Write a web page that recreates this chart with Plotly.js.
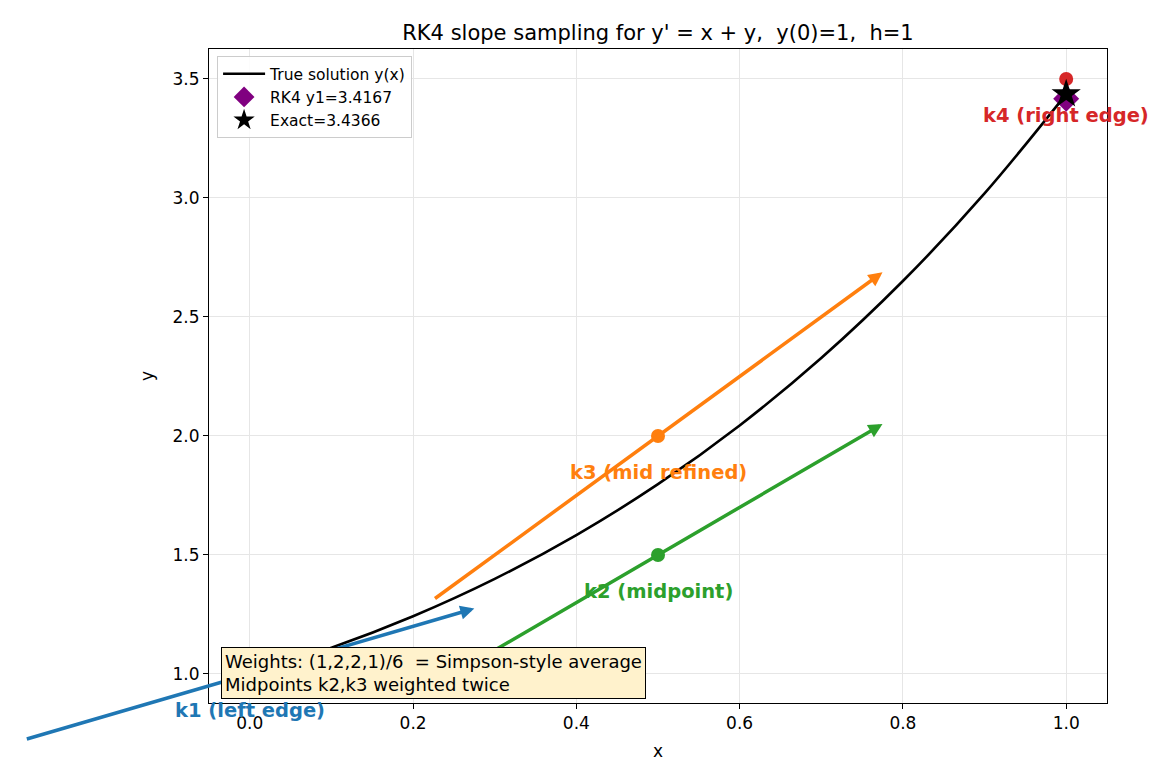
<!DOCTYPE html>
<html>
<head>
<meta charset="utf-8">
<script src="https://cdn.plot.ly/plotly-3.0.1.min.js"></script>
<style>html,body{margin:0;padding:0;background:#fff;}#chart{width:1170px;height:780px;}</style>
</head>
<body>
<div id="chart"></div>
<script>
// True solution samples y(x)
const curveX = [0, 0.1, 0.2, 0.3, 0.4, 0.5, 0.6, 0.7, 0.8, 0.9, 1.0];
const curveY = [1.0, 1.1103, 1.2428, 1.3997, 1.5836, 1.7974, 2.0442, 2.3275, 2.6511, 3.0192, 3.4366];

// RK4 stage sample points and slopes
const stageNames = ["k1 (left edge)", "k2 (midpoint)", "k3 (mid refined)", "k4 (right edge)"];
const stageX = [0, 0.5, 0.5, 1.0];
const stageY = [1.0, 1.5, 2.0, 3.5];
const stageSlope = [1.0, 2.0, 2.5, 4.5];
const stageArrow = [true, true, true, false];
const stageColors = ["#1f77b4", "#2ca02c", "#ff7f0e", "#d62728"];

// Result markers
const rk4X = [1.0];
const rk4Y = [3.4167];
const exactX = [1.0];
const exactY = [3.4366];

// Ticks
const xTickVals = [0, 0.2, 0.4, 0.6, 0.8, 1.0];
const xTickText = ["0.0", "0.2", "0.4", "0.6", "0.8", "1.0"];
const yTickVals = [1.0, 1.5, 2.0, 2.5, 3.0, 3.5];
const yTickText = ["1.0", "1.5", "2.0", "2.5", "3.0", "3.5"];

const FONT = "DejaVu Sans, Liberation Sans, sans-serif";
const HALF = 0.275; // half-width of slope arrows in x

const traces = [];
traces.push({
  x: stageX, y: stageY, mode: "markers", type: "scatter", showlegend: false,
  marker: {size: 14, color: stageColors}, hoverinfo: "skip"
});
traces.push({
  x: rk4X, y: rk4Y, mode: "markers", type: "scatter", name: "RK4 y1=3.4167",
  marker: {symbol: "diamond", size: 20, color: "#800080"}, legendrank: 2
});
traces.push({
  x: curveX, y: curveY, mode: "lines", type: "scatter", name: "True solution y(x)",
  line: {color: "black", width: 2.6, shape: "spline"}, legendrank: 1
});
traces.push({
  x: exactX, y: exactY, mode: "markers", type: "scatter", name: "Exact=3.4366",
  marker: {symbol: "star", size: 22, color: "black"}, legendrank: 3
});

const annotations = [];
for (let i = 0; i < stageX.length; i++) {
  if (stageArrow[i]) {
    annotations.push({
      x: stageX[i] + HALF, y: stageY[i] + HALF * stageSlope[i],
      ax: stageX[i] - HALF, ay: stageY[i] - HALF * stageSlope[i],
      xref: "x", yref: "y", axref: "x", ayref: "y",
      showarrow: true, arrowhead: 2, arrowsize: 0.8, arrowwidth: 3.5,
      arrowcolor: stageColors[i], standoff: 0, startstandoff: 0, text: ""
    });
  }
}
for (let i = 0; i < stageX.length; i++) {
  annotations.push({
    x: stageX[i], y: stageY[i], xref: "x", yref: "y",
    text: "<b>" + stageNames[i] + "</b>", showarrow: false,
    xanchor: "center", yanchor: "middle", yshift: -37,
    font: {family: FONT, size: 19.5, color: stageColors[i]}
  });
}
annotations.push({
  xref: "paper", yref: "paper", x: 0.0134, y: 0.006,
  xanchor: "left", yanchor: "bottom", align: "left", showarrow: false,
  text: "Weights: (1,2,2,1)/6  = Simpson-style average<br>Midpoints k2,k3 weighted twice",
  font: {family: FONT, size: 18, color: "black"},
  bgcolor: "#fff2cc", bordercolor: "black", borderwidth: 1, borderpad: 3
});

const axisCommon = {
  showline: true, mirror: true, linecolor: "black", linewidth: 1,
  ticks: "outside", ticklen: 5, tickcolor: "black", tickwidth: 1,
  showgrid: true, gridcolor: "#e6e6e6", gridwidth: 1, zeroline: false,
  tickfont: {family: FONT, size: 17, color: "black"}
};

const layout = {
  width: 1170, height: 780,
  margin: {l: 209, r: 63, t: 49, b: 77, pad: 0},
  paper_bgcolor: "white", plot_bgcolor: "white",
  font: {family: FONT, color: "black"},
  title: {
    text: "RK4 slope sampling for y' = x + y,  y(0)=1,  h=1",
    font: {family: FONT, size: 21, color: "black"},
    x: 0.5, xref: "paper", xanchor: "center",
    y: 1, yref: "paper", yanchor: "bottom", pad: {b: 9}
  },
  xaxis: Object.assign({}, axisCommon, {
    range: [-0.05, 1.05], tickvals: xTickVals, ticktext: xTickText,
    title: {text: "x", font: {family: FONT, size: 17, color: "black"}, standoff: 12}
  }),
  yaxis: Object.assign({}, axisCommon, {
    range: [0.878, 3.626], tickvals: yTickVals, ticktext: yTickText,
    title: {text: "y", font: {family: FONT, size: 17, color: "black"}, standoff: 14}
  }),
  legend: {
    x: 0.009, y: 0.989, xanchor: "left", yanchor: "top",
    bgcolor: "rgba(255,255,255,0.85)", bordercolor: "#cccccc", borderwidth: 1,
    font: {family: FONT, size: 15.5, color: "black"}, tracegroupgap: 0,
    itemwidth: 42
  },
  annotations: annotations,
  showlegend: true
};

Plotly.newPlot("chart", traces, layout, {displayModeBar: false, staticPlot: true});
</script>
</body>
</html>
